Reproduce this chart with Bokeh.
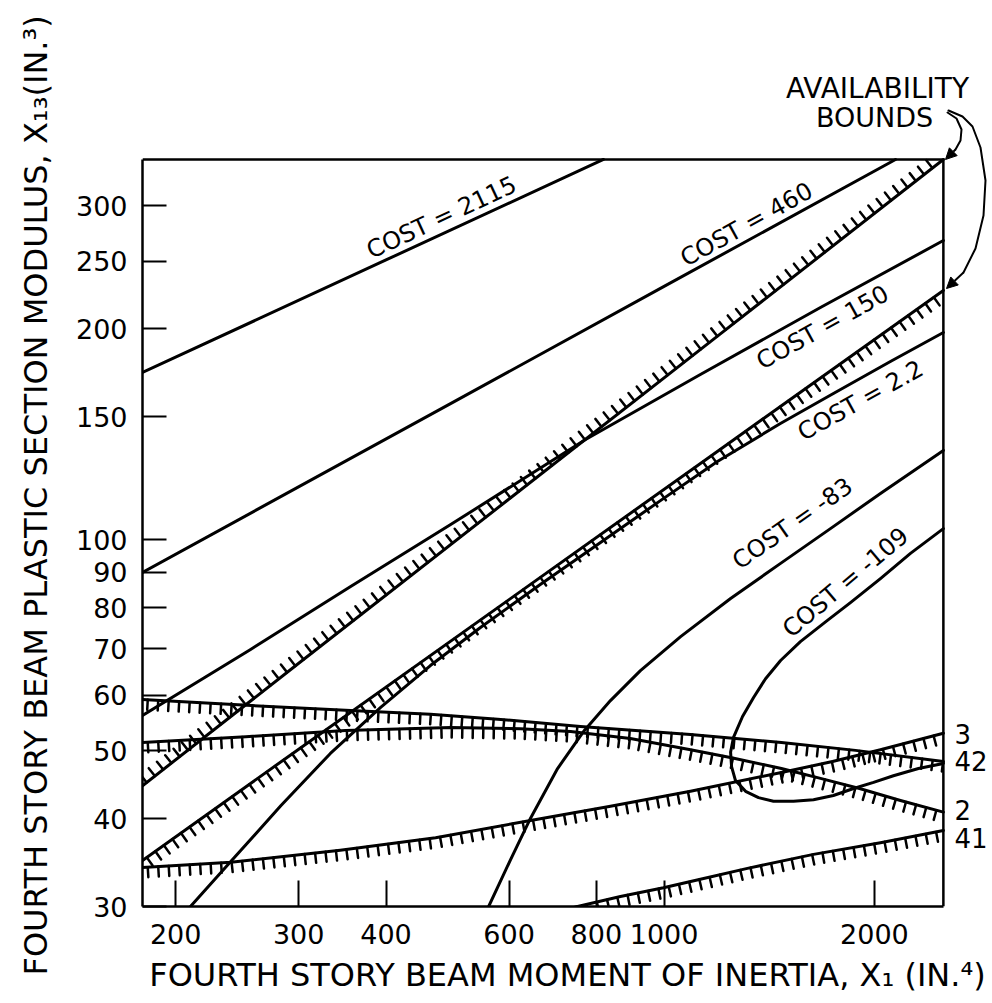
import math
import numpy as np
from bokeh.plotting import figure
from bokeh.models import (FixedTicker, Label, Arrow, NormalHead, Title,
                          ColumnDataSource, NumeralTickFormatter)
from bokeh.embed import file_html
from bokeh.resources import INLINE

# ---------------------------------------------------------------- layout
WIDTH, HEIGHT = 992, 1003
LEFT, BOTTOM = 142, 97
FRAME_W = WIDTH - LEFT
FRAME_H = HEIGHT - BOTTOM
FRAME_BOTTOM = HEIGHT - BOTTOM
FONT = "DejaVu Sans"

# ---------------------------------------------------------------- axes
# the boxed chart area, and the full plotting ranges (room above/right for notes)
x_start, x_box_end, x_full_end = 179.3, 2510.0, 2951.0
y_start, y_box_end, y_full_end = 30.0, 349.0, 588.3
x_ticks = [200, 300, 400, 600, 800, 1000, 2000]
y_ticks = [30, 40, 50, 60, 70, 80, 90, 100, 150, 200, 250, 300]

# ---------------------------------------------------------------- cost contours
cost_2115_x = [179.3, 400, 819]
cost_2115_y = [173.4, 250.9, 349.0]

cost_460_x = [179.3, 500, 1000, 2144]
cost_460_y = [89.9, 157.4, 230.0, 349.0]

cost_150_x = [179.3, 256, 356, 495, 772, 1127, 1674, 2510]
cost_150_y = [56.2, 69.8, 85.8, 105.2, 139.1, 172.2, 214.6, 267.4]

cost_2p2_x = [210, 240, 283, 333, 393, 463, 546, 665, 811, 988, 1192, 1467, 1747, 2108, 2510]
cost_2p2_y = [30.0, 34.8, 41.8, 49.6, 57.7, 66.2, 75.0, 86.4, 99.2, 113.8, 129.4, 146.6, 161.8, 179.7, 197.7]

cost_m83_x = [561, 603, 644, 704, 769, 838, 925, 1056, 1245, 1468, 1730, 2040, 2510]
cost_m83_y = [30.0, 35.0, 40.1, 47.2, 53.5, 59.0, 65.1, 72.8, 82.5, 92.6, 103.8, 116.5, 134.2]

cost_m109_x = [2510, 2252, 2040, 1848, 1713, 1567, 1468, 1397, 1343, 1295, 1257, 1245, 1249,
               1265, 1308, 1365, 1434, 1532, 1636, 1747, 1867, 1994, 2129, 2312, 2510]
cost_m109_y = [103.8, 95.7, 88.1, 81.4, 76.8, 71.6, 67.3, 63.4, 59.6, 56.0, 52.3, 49.8, 47.5,
               45.4, 43.8, 42.9, 42.4, 42.4, 42.6, 43.2, 44.2, 45.1, 46.1, 47.2, 48.0]

# ---------------------------------------------------------------- availability bounds
upper_bound_x = [179.3, 300, 600, 1200, 2510]
upper_bound_y = [44.6, 66.7, 114.4, 196.3, 349.0]
lower_bound_x = [179.3, 300, 600, 1200, 2510]
lower_bound_y = [34.9, 50.3, 82.2, 134.4, 227.0]

# ---------------------------------------------------------------- constraints 3, 42, 2, 41
con3_x = [179.3, 240, 344, 471, 644, 838, 1091, 1472, 1742, 2040, 2510]
con3_y = [34.1, 34.7, 36.1, 37.6, 39.8, 41.7, 43.8, 46.6, 48.3, 50.2, 53.0]
con42_x = [179.3, 253, 356, 463, 578, 759, 1091, 1472, 1879, 2510]
con42_y = [59.2, 58.1, 57.1, 56.4, 55.5, 54.2, 52.8, 51.4, 50.1, 48.3]
con2_x = [179.3, 252, 350, 495, 623, 735, 895, 1091, 1249, 1472, 1674, 1904, 2179, 2510]
con2_y = [51.4, 52.4, 53.5, 54.0, 53.8, 53.3, 52.1, 50.2, 48.9, 47.2, 45.7, 44.2, 42.5, 40.9]
con41_x = [666, 752, 866, 998, 1127, 1316, 1636, 2040, 2510]
con41_y = [29.1, 30.0, 31.0, 31.9, 32.8, 34.0, 35.6, 37.0, 38.5]

constraint_names = ["3", "42", "2", "41"]
cost_names = ["COST = 2115", "COST = 460", "COST = 150", "COST = 2.2", "COST = -83", "COST = -109"]

# ---------------------------------------------------------------- figure
p = figure(width=WIDTH, height=HEIGHT, x_axis_type="log", y_axis_type="log",
           x_range=(x_start, x_full_end), y_range=(y_start, y_full_end),
           title=None, output_backend="svg", toolbar_location=None,
           min_border_left=LEFT, min_border_right=0,
           min_border_top=0, min_border_bottom=BOTTOM)
p.background_fill_color = "white"
p.border_fill_color = "white"
p.grid.visible = False
p.outline_line_color = None

for ax, ticks, tick_len, standoff, bounds in (
        (p.xaxis, x_ticks, 26, 17, (x_start, x_box_end)),
        (p.yaxis, y_ticks, 24, 15, (y_start, y_box_end))):
    ax.ticker = FixedTicker(ticks=ticks)
    ax.formatter = NumeralTickFormatter(format="0")
    ax.bounds = bounds
    ax.axis_line_color = "black"
    ax.axis_line_width = 2.5
    ax.major_tick_in = tick_len
    ax.major_tick_out = 0
    ax.major_tick_line_width = 2
    ax.major_tick_line_color = "black"
    ax.minor_tick_line_color = None
    ax.major_label_text_font = FONT
    ax.major_label_text_font_size = "27px"
    ax.major_label_text_color = "black"
    ax.major_label_standoff = standoff

# axis titles
p.add_layout(Title(text="FOURTH STORY BEAM MOMENT OF INERTIA, X\u2081 (IN.\u2074)",
                   align="center", standoff=15, text_font=FONT,
                   text_font_style="normal", text_font_size="32px", text_color="black"), "below")
p.add_layout(Title(text="FOURTH STORY BEAM PLASTIC SECTION MODULUS, X\u2081\u2083(IN.\u00b3)",
                   align="left", vertical_align="top", offset=-69, standoff=32, text_font=FONT,
                   text_font_style="normal", text_font_size="32px", text_color="black"), "left")

# top and right edges of the chart box
p.line([x_start, x_box_end, x_box_end], [y_box_end, y_box_end, y_start],
       line_color="black", line_width=2.5, line_join="miter")

LINE = dict(line_color="black", line_width=3, line_cap="round", line_join="round")

# px per decade on each axis, used to lay the hatch ticks out evenly on screen
KX = FRAME_W / math.log10(x_full_end / x_start)
KY = FRAME_H / math.log10(y_full_end / y_start)


def hatch(xs, ys, side, step=10.5, length=10.0):
    """Short ticks along a curve on its infeasible side (side=+1 above, -1 below)."""
    u = np.log10(np.asarray(xs, float)) * KX
    v = np.log10(np.asarray(ys, float)) * KY
    du, dv = np.diff(u), np.diff(v)
    seg = np.hypot(du, dv)
    s = np.concatenate([[0.0], np.cumsum(seg)])
    pos = np.arange(step / 2, s[-1], step)
    idx = np.clip(np.searchsorted(s, pos, side="right") - 1, 0, len(seg) - 1)
    f = (pos - s[idx]) / seg[idx]
    pu, pv = u[idx] + f * du[idx], v[idx] + f * dv[idx]
    tu, tv = du[idx] / seg[idx], dv[idx] / seg[idx]
    nu, nv = -tv * side, tu * side
    eu, ev = pu + length * nu, pv + length * nv
    x0, y0, x1, y1 = 10 ** (pu / KX), 10 ** (pv / KY), 10 ** (eu / KX), 10 ** (ev / KY)
    keep = (np.maximum(x0, x1) <= x_box_end) & (np.maximum(y0, y1) <= y_box_end)
    return ColumnDataSource(dict(x0=x0[keep], y0=y0[keep], x1=x1[keep], y1=y1[keep]))


# cost contours (plain lines)
for xs, ys in ((cost_2115_x, cost_2115_y), (cost_460_x, cost_460_y),
               (cost_150_x, cost_150_y), (cost_2p2_x, cost_2p2_y),
               (cost_m83_x, cost_m83_y), (cost_m109_x, cost_m109_y)):
    p.line(xs, ys, **LINE)

# hatched boundaries
hatched = [(upper_bound_x, upper_bound_y, 1), (lower_bound_x, lower_bound_y, -1),
           (con3_x, con3_y, -1), (con42_x, con42_y, -1),
           (con2_x, con2_y, -1), (con41_x, con41_y, -1)]
for xs, ys, side in hatched:
    p.line(xs, ys, **LINE)
    p.segment(x0="x0", y0="y0", x1="x1", y1="y1", source=hatch(xs, ys, side),
              line_color="black", line_width=2.5, line_cap="round")


def frame_label(text, cx, cy, size, angle=0.0, align="center"):
    """Label placed by canvas pixel position (origin top-left)."""
    p.add_layout(Label(x=cx - LEFT, y=FRAME_BOTTOM - cy, x_units="screen", y_units="screen",
                       text=text, angle=math.radians(angle), text_align=align,
                       text_baseline="middle", text_font=FONT,
                       text_font_size=f"{size}px", text_color="black"))


# cost contour captions
for name, (cx, cy, ang) in zip(cost_names, [(441, 217, 25), (746, 224, 29), (822, 327, 29),
                                            (860, 400, 29), (792, 523, 35), (845, 582, 40)]):
    frame_label(name, cx, cy, 24, ang)

# constraint numbers beside the right edge
for name, cy in zip(constraint_names, [733, 760, 809, 837]):
    frame_label(name, 954, cy, 26, align="left")

# availability-bounds note with curved leaders
frame_label("AVAILABILITY", 877, 88, 28)
frame_label("BOUNDS", 874, 117, 27)


def to_data(cx, cy):
    return (10 ** (math.log10(x_start) + (cx - LEFT) / KX),
            10 ** (math.log10(y_start) + (FRAME_BOTTOM - cy) / KY))


def leader(points, tip):
    pts = [to_data(cx, cy) for cx, cy in points]
    p.line([a[0] for a in pts], [a[1] for a in pts], line_color="black", line_width=2,
           line_join="round", line_cap="round")
    (sx, sy), (ex, ey) = points[-1], tip
    p.add_layout(Arrow(x_start=sx - LEFT, y_start=FRAME_BOTTOM - sy,
                       x_end=ex - LEFT, y_end=FRAME_BOTTOM - ey,
                       start_units="screen", end_units="screen",
                       end=NormalHead(size=11, fill_color="black", line_color="black"),
                       line_color="black", line_width=2))


leader([(947, 112), (956, 118), (961, 129), (960, 140), (955, 149)], (945, 159))
leader([(948, 110), (962, 116), (972, 126), (980, 147), (985, 180), (983, 215),
        (975, 248), (963, 272)], (946, 288))

open("out.html", "w").write(file_html(p, INLINE))
